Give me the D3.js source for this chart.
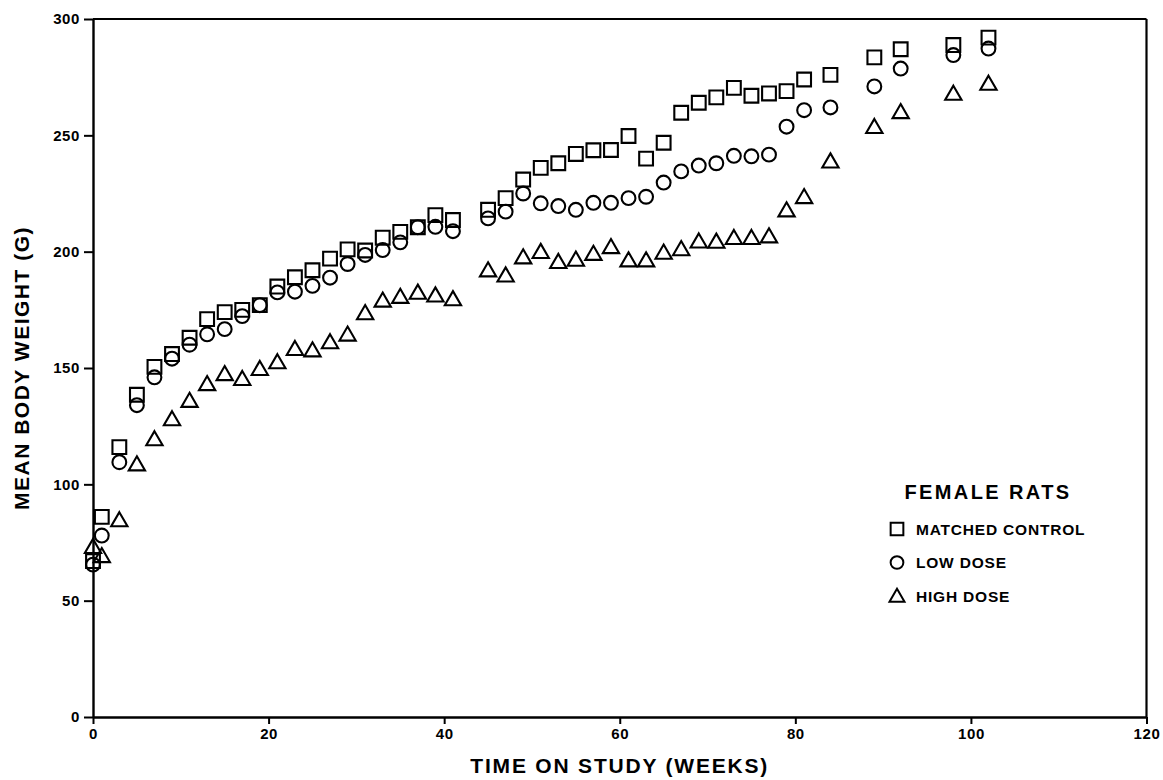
<!DOCTYPE html>
<html>
<head>
<meta charset="utf-8">
<script src="https://cdn.jsdelivr.net/npm/d3@7"></script>
<style>
  html, body { margin: 0; padding: 0; background: #fff; }
  svg { display: block; }
  text { font-family: "Liberation Sans", Arial, Helvetica, sans-serif; font-weight: bold; fill: #000; }
</style>
</head>
<body>
<svg id="chart" width="1163" height="780"></svg>
<script>
// ---- data ----
const weeks = [0,1,3,5,7,9,11,13,15,17,19,21,23,25,27,29,31,33,35,37,39,41,
               45,47,49,51,53,55,57,59,61,63,65,67,69,71,73,75,77,79,81,84,89,92,98,102];
const matchedControl = [67,86,116,138.5,150.5,156,163,171,174,175,177,185,189,192,197,201,200.5,206,208.5,210.5,215.7,213.6,
               218,223,231,236,238,242,243.6,243.7,249.7,240,246.8,259.7,264,266.3,270.4,267,268,269,274,276,283.5,287,288.8,292];
const lowDose = [65.5,78,109.5,134,146,154,160,164.5,166.7,172.3,177,182.5,182.8,185.3,188.8,194.7,198.6,200.7,204,210.5,210.7,208.8,
               214.3,217.2,225,220.8,219.6,218,221,221,223,223.6,229.7,234.5,237,238,241.2,241,241.7,253.7,260.8,262,271,278.7,284.5,287.3];
const highDose = [72.5,68.6,84,108,118.8,127.4,135.3,142.5,146.8,144.7,149,151.9,157.6,157,160.5,163.8,173,178.4,180,181.8,180.6,179,
               191.4,189.2,197,199.3,195,196,198.5,201.4,195.7,195.7,199,200.5,203.8,203.7,205.3,205.3,206,217.2,222.9,238.2,253,259.4,267.3,271.6];
const seriesNames = ["MATCHED CONTROL", "LOW DOSE", "HIGH DOSE"];
const legendTitle = "FEMALE RATS";
const xTicks = [0,20,40,60,80,100,120];
const yTicks = [0,50,100,150,200,250,300];
const xTitle = "TIME ON STUDY (WEEKS)";
const yTitle = "MEAN BODY WEIGHT (G)";

// ---- layout ----
const svg = d3.select("#chart");
const x = d3.scaleLinear().domain([0,120]).range([93, 1146.5]);
const y = d3.scaleLinear().domain([0,300]).range([717, 19]);

const shapes = [d3.symbolSquare, d3.symbolCircle, d3.symbolTriangle];
const sizes = [190, 150, 115];
const seriesData = [matchedControl, lowDose, highDose];

// frame top/right
svg.append("line").attr("x1", x(0)).attr("x2", x(120)).attr("y1", y(300)).attr("y2", y(300))
  .attr("stroke", "#000").attr("stroke-width", 2.2);
svg.append("line").attr("x1", x(120)).attr("x2", x(120)).attr("y1", y(300)).attr("y2", y(0))
  .attr("stroke", "#000").attr("stroke-width", 2.2);

// axes
const xAxis = svg.append("g").attr("transform", `translate(0,${y(0)})`)
  .call(d3.axisBottom(x).tickValues(xTicks).tickSize(7).tickPadding(4).tickSizeOuter(0));
const yAxis = svg.append("g").attr("transform", `translate(${x(0)},0)`)
  .call(d3.axisLeft(y).tickValues(yTicks).tickSize(9).tickPadding(4).tickSizeOuter(0));
[xAxis, yAxis].forEach(a => {
  a.select(".domain").attr("stroke", "#000").attr("stroke-width", 2.4);
  a.selectAll(".tick line").attr("stroke", "#000").attr("stroke-width", 2);
  a.selectAll(".tick text").style("font-family", '"Liberation Sans", Arial, sans-serif')
    .style("font-weight", "bold").style("font-size", "15px").style("letter-spacing", "0.6px").attr("fill", "#000");
});

// axis titles
svg.append("text").attr("x", (x(0)+x(120))/2).attr("y", 773)
  .attr("text-anchor", "middle").style("font-size", "21px").style("letter-spacing", "1.8px").text(xTitle);
svg.append("text").attr("transform", `translate(29,${y(150)}) rotate(-90)`)
  .attr("text-anchor", "middle").style("font-size", "21px").style("letter-spacing", "1.5px").text(yTitle);

// markers
seriesData.forEach((vals, i) => {
  const sym = d3.symbol().type(shapes[i]).size(sizes[i]);
  svg.append("g").selectAll("path").data(weeks.map((w, j) => [w, vals[j]])).join("path")
    .attr("d", sym)
    .attr("transform", d => `translate(${x(d[0])},${y(d[1])})`)
    .attr("fill", "none").attr("stroke", "#000").attr("stroke-width", 2.1);
});

// legend
svg.append("text").attr("x", 988).attr("y", 499).attr("text-anchor", "middle")
  .style("font-size", "20px").style("letter-spacing", "2.4px").text(legendTitle);
const legY = [529, 562.5, 596];
seriesNames.forEach((name, i) => {
  const sym = d3.symbol().type(shapes[i]).size(sizes[i] * 0.85);
  svg.append("path").attr("d", sym).attr("transform", `translate(897,${legY[i] + (i===2?1.5:0)})`)
    .attr("fill", "none").attr("stroke", "#000").attr("stroke-width", 2);
  svg.append("text").attr("x", 916).attr("y", legY[i] + 5.5)
    .style("font-size", "15.5px").style("letter-spacing", "0.8px").text(name);
});
</script>
</body>
</html>
